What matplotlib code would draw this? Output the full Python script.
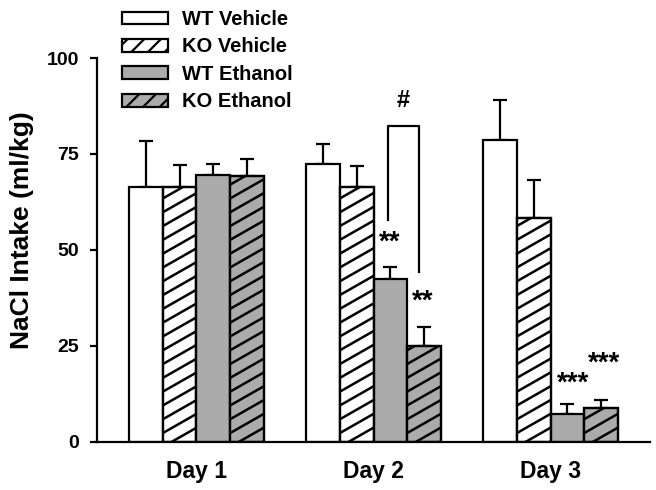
import numpy as np
import matplotlib
matplotlib.use("Agg")
import matplotlib.pyplot as plt
from matplotlib.collections import LineCollection
from matplotlib.patches import Patch

# ---------------- data ----------------
days = ["Day 1", "Day 2", "Day 3"]
groups = ["WT Vehicle", "KO Vehicle", "WT Ethanol", "KO Ethanol"]
wt_vehicle = [66.3, 72.3, 78.6]
ko_vehicle = [66.3, 66.4, 58.2]
wt_ethanol = [69.6, 42.4, 7.2]
ko_ethanol = [69.2, 25.0, 8.7]
wt_vehicle_err = [12.0, 5.2, 10.4]
ko_vehicle_err = [5.8, 5.5, 10.0]
wt_ethanol_err = [2.8, 3.2, 2.6]
ko_ethanol_err = [4.5, 4.8, 2.1]
yticks = [0, 25, 50, 75, 100]

plt.rcParams['font.family'] = ['Liberation Sans', 'DejaVu Sans']
plt.rcParams['hatch.linewidth'] = 1.6

FW, FH = 656, 490
fig = plt.figure(figsize=(FW / 100, FH / 100), dpi=100)
ax_rect = [97 / FW, 1 - 441.5 / FH, 553 / FW, (441.5 - 58) / FH]
ax = fig.add_axes(ax_rect)

XLIM = (-0.562, 2.562)
YLIM = (0, 100)
ax.set_xlim(*XLIM)
ax.set_ylim(*YLIM)

gray = '#ababab'
series = [
    (wt_vehicle, wt_vehicle_err, 'white', False),
    (ko_vehicle, ko_vehicle_err, 'white', True),
    (wt_ethanol, wt_ethanol_err, gray, False),
    (ko_ethanol, ko_ethanol_err, gray, True),
]
x = np.arange(len(days))
w = 0.19
lw = 1.6

# pixel scale of the axes (for the shallow hatch drawn as clipped lines)
px_per_x = ax_rect[2] * FW / (XLIM[1] - XLIM[0])
px_per_y = ax_rect[3] * FH / (YLIM[1] - YLIM[0])
hatch_slope_px = 0.57      # rise/run in pixels
hatch_gap_px = 13.8        # vertical spacing in pixels
slope = hatch_slope_px * px_per_x / px_per_y
gap = hatch_gap_px / px_per_y

bars_all = []
for i, (vals, errs, fc, hatched) in enumerate(series):
    pos = x + (i - 1.5) * w
    bc = ax.bar(pos, vals, w, color=fc, edgecolor='black', linewidth=lw,
                zorder=2)
    bars_all.append(pos)
    ax.errorbar(pos, vals, yerr=[np.zeros(len(vals)), errs], fmt='none',
                ecolor='black', elinewidth=lw, capsize=4.8, capthick=lw, zorder=1)
    if hatched:
        for rect in bc.patches:
            x0 = rect.get_x()
            x1 = x0 + rect.get_width()
            h = rect.get_height()
            segs = []
            b = -slope * (x1 - x0)
            while b < h + gap:
                segs.append([(x0, b), (x1, b + slope * (x1 - x0))])
                b += gap
            lc = LineCollection(segs, colors='black', linewidths=1.8, zorder=2.5)
            ax.add_collection(lc, autolim=False)
            lc.set_clip_path(rect)
            # redraw edge on top
            ax.bar(rect.get_x() + rect.get_width() / 2, h, w, fill=False,
                   edgecolor='black', linewidth=lw, zorder=2.6)

ax.set_xlim(*XLIM)
ax.set_ylim(*YLIM)
ax.set_yticks(yticks)
ax.set_yticklabels([str(t) for t in yticks], fontsize=14, fontweight='bold')
ax.set_xticks(x)
ax.set_xticklabels(days, fontsize=16.5, fontweight='bold')
ax.tick_params(axis='x', length=0, pad=13)
ax.tick_params(axis='y', length=5, width=lw, pad=8, direction='out')
for s in ['top', 'right']:
    ax.spines[s].set_visible(False)
for s in ['left', 'bottom']:
    ax.spines[s].set_linewidth(lw)
    ax.spines[s].set_zorder(3)

fig.text(22 / FW, 1 - 230 / FH, 'NaCl Intake (ml/kg)', rotation=90,
         ha='center', va='center', fontsize=19, fontweight='bold')

# significance marks
star_kw = dict(ha='center', va='center', fontsize=20, fontweight='bold')
ax.text(bars_all[2][1] - 0.005, 51.8, '**', **star_kw)
ax.text(bars_all[3][1] - 0.005, 36.4, '**', **star_kw)
ax.text(bars_all[2][2] + 0.03, 15.0, '***', **star_kw)
ax.text(bars_all[3][2] + 0.02, 20.2, '***', **star_kw)

# bracket with #
xl = bars_all[2][1] - 0.015
xr = bars_all[3][1] - 0.03
ax.plot([xl, xl, xr, xr], [57.8, 82.3, 82.3, 44.3], color='black', lw=lw,
        clip_on=False, zorder=3)
ax.text((xl + xr) / 2, 89.0, '#', ha='center', va='center', fontsize=17,
        fontweight='bold')

handles = [Patch(facecolor=fc, edgecolor='black', linewidth=lw,
                 hatch='//' if hatched else None)
           for (_, _, fc, hatched) in series]
leg = ax.legend(handles, groups, loc='upper left',
                bbox_to_anchor=(122 / FW, 1 - 10 / FH),
                bbox_transform=fig.transFigure, frameon=False, borderpad=0,
                borderaxespad=0, handlelength=2.3, handleheight=0.6,
                labelspacing=0.42, handletextpad=0.7,
                prop={'size': 14.5, 'weight': 'bold'})

fig.savefig('out.png', dpi=100)
